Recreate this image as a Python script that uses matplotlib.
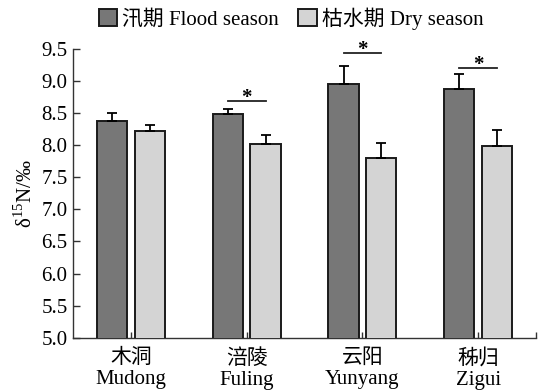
import matplotlib
matplotlib.use("Agg")
import matplotlib.pyplot as plt
import numpy as np

# Sites and seasonal δ15N means with standard errors
sites_cn = ["木洞", "涪陵", "云阳", "秭归"]
sites_en = ["Mudong", "Fuling", "Yunyang", "Zigui"]
flood_mean = [8.38, 8.49, 8.95, 8.88]
flood_err = [0.13, 0.08, 0.28, 0.23]
dry_mean = [8.22, 8.02, 7.80, 7.99]
dry_err = [0.09, 0.14, 0.24, 0.24]
# significant differences (site index, bracket height)
sig_sites = [1, 2, 3]
sig_height = [8.69, 9.44, 9.20]

flood_label = "汛期 Flood season"
dry_label = "枯水期 Dry season"
ylabel = "δ$^{\\mathregular{15}}$N/‰"

fam = ["Liberation Serif", "Noto Sans CJK SC", "DejaVu Sans"]
plt.rcParams["font.family"] = fam
plt.rcParams["mathtext.fontset"] = "custom"
plt.rcParams["mathtext.rm"] = "Liberation Serif"
fs = 15

fig = plt.figure(figsize=(5.38, 3.92), dpi=100)
ax = fig.add_axes([0.1357, 0.1385, 0.9963 - 0.1357, 0.875 - 0.1385])

x = np.arange(len(sites_en))
w = 0.26
off = 0.163
flood_col = "#777777"
dry_col = "#d4d4d4"

ekw = dict(ecolor="black", elinewidth=1.3, capsize=3.5, capthick=1.3)
ax.bar(x - off, flood_mean, w, color=flood_col, edgecolor="#1a1a1a",
       linewidth=1.4, yerr=[np.zeros(len(x)), flood_err], error_kw=ekw,
       label=flood_label, zorder=3)
ax.bar(x + off, dry_mean, w, color=dry_col, edgecolor="#1a1a1a",
       linewidth=1.4, yerr=[np.zeros(len(x)), dry_err], error_kw=ekw,
       label=dry_label, zorder=3)

for i, h in zip(sig_sites, sig_height):
    ax.plot([i - off, i + off], [h, h], color="#222222", lw=1.3, clip_on=False)
    ax.annotate("*", xy=(i, h), xytext=(0, -1.2), textcoords="offset points",
                ha="center", va="baseline", fontsize=15, fontweight="bold",
                annotation_clip=False)

ax.set_xlim(-0.5, 3.5)
ax.set_ylim(5.0, 9.5)
yt = np.arange(5.0, 9.51, 0.5)
ax.set_yticks(yt)
ax.set_yticklabels([f"{v:.1f}" for v in yt], fontsize=fs)
ax.set_xticks(list(x) + [3.5])
ax.set_xticklabels([f"{c}\n{e}" for c, e in zip(sites_cn, sites_en)] + [""],
                   fontsize=fs, linespacing=1.15)
ax.tick_params(axis="both", direction="in", width=1.0, color="#333333")
ax.tick_params(axis="y", length=5, pad=4)
ax.tick_params(axis="x", length=4, pad=8)

for s in ["top", "right"]:
    ax.spines[s].set_visible(False)
for s in ["left", "bottom"]:
    ax.spines[s].set_linewidth(1.0)
    ax.spines[s].set_color("#333333")

ax.set_ylabel(ylabel, fontsize=fs, labelpad=3)

fig.legend(loc="center", bbox_to_anchor=(0.541, 0.953), ncol=2, frameon=False,
           fontsize=fs, handlelength=0.9, handleheight=0.9,
           handletextpad=0.25, columnspacing=0.9, borderaxespad=0)

fig.savefig("out.png", dpi=100)
